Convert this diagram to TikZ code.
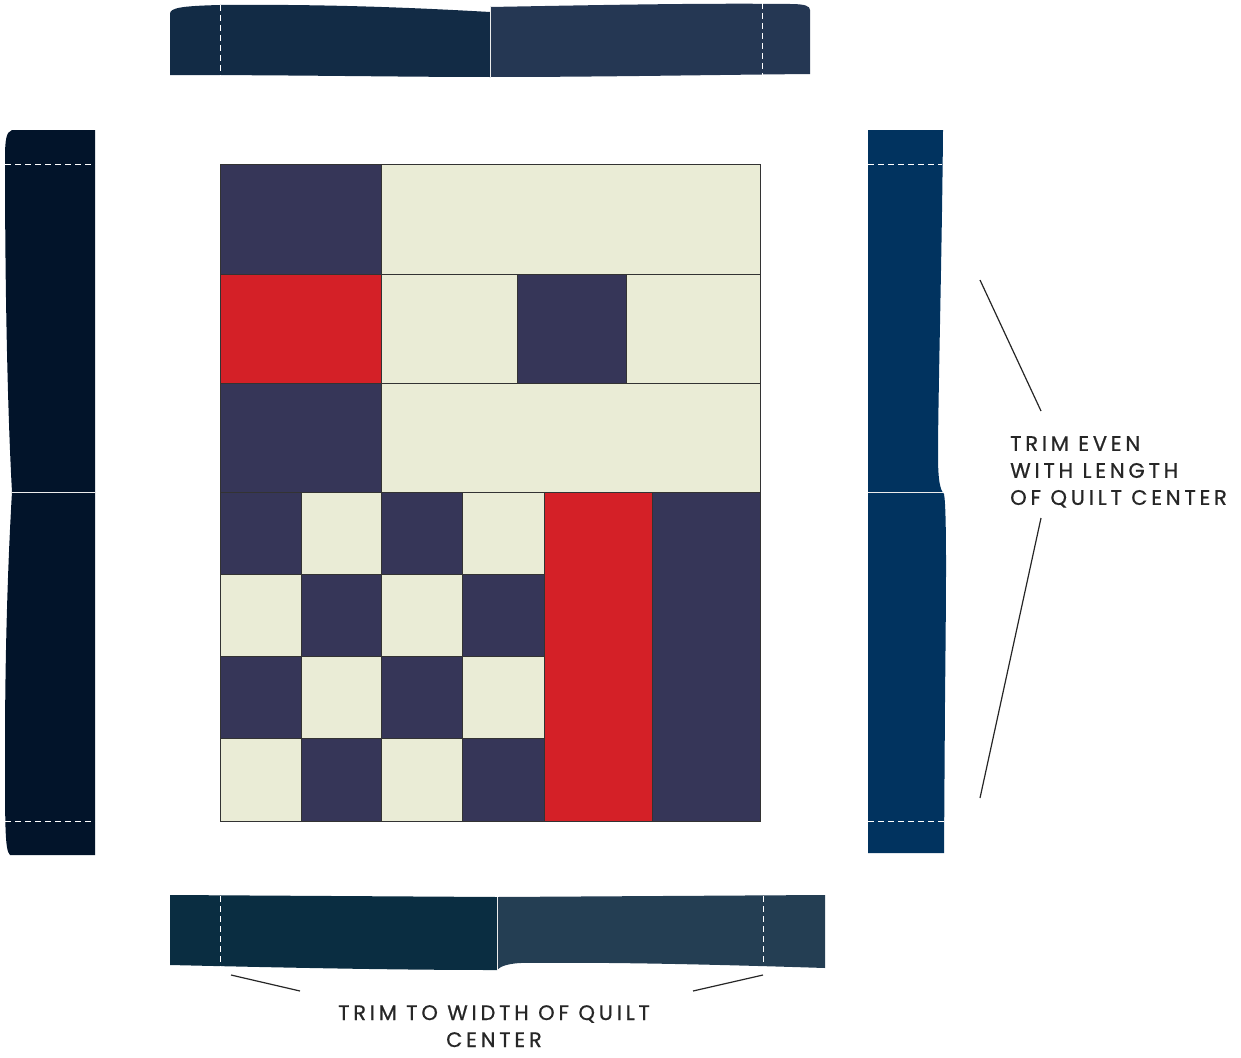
\documentclass[tikz,border=0pt]{standalone}
\usepackage{fontspec}
\newfontfamily\labelfont[LetterSpace=18,FakeBold=0.7]{Poppins}
\definecolor{navy}{HTML}{363658}
\definecolor{cream}{HTML}{EAECD6}
\definecolor{qred}{HTML}{D42027}
\definecolor{topL}{HTML}{122B45}
\definecolor{topR}{HTML}{253753}
\definecolor{leftS}{HTML}{02142A}
\definecolor{rightS}{HTML}{01335F}
\definecolor{botL}{HTML}{0A2D41}
\definecolor{botR}{HTML}{243E53}
\definecolor{ink}{HTML}{262626}
\tikzset{
  cell/.style={draw=black!80, line width=1pt},
  seam/.style={draw=white!85!gray, line width=1pt},
  trimline/.style={draw=white, line width=1pt, dash pattern=on 6pt off 4pt},
  leader/.style={draw=ink, line width=1.2pt},
  lbl/.style={font=\labelfont\fontsize{21}{27}\selectfont, text=ink, inner sep=0pt}
}
\begin{document}
\begin{tikzpicture}[x=1pt,y=-1pt]
\useasboundingbox (0,0) rectangle (1241,1057);
% top strip
\fill[topL] (170,14) .. controls (170,8) and (180,6) .. (220,5) .. controls (330,4) and (420,8) .. (490,12) -- (490,77) .. controls (400,77) and (300,75) .. (170,75) -- cycle;
\fill[topR] (490,7) .. controls (600,5) and (700,3) .. (790,4) .. controls (805,4) and (810,6) .. (810,10) -- (810,74) .. controls (700,75) and (600,77) .. (490,77) -- cycle;
\draw[seam] (490,7) -- (490,77);
\draw[trimline] (220,5) -- (220,76);
\draw[trimline] (762,3) -- (762,75);
% left strip
\fill[leftS] (95,130) -- (12,130) .. controls (6,132) and (5,140) .. (5,160) .. controls (5,300) and (8,420) .. (12,492) .. controls (8,560) and (5,650) .. (5,750) .. controls (5,830) and (5,850) .. (10,855) -- (95,855) -- cycle;
\draw[seam] (12,492) -- (95,492);
\draw[trimline] (5,164) -- (95,164);
\draw[trimline] (5,821) -- (95,821);
% right strip
\fill[rightS] (868,130) -- (943,130) .. controls (942,250) and (938,400) .. (938,455) .. controls (938,480) and (940,490) .. (944,494) .. controls (947,510) and (946,600) .. (945,700) -- (944,853) -- (868,853) -- cycle;
\draw[seam] (868,492) -- (943,492);
\draw[trimline] (868,164) -- (942,164);
\draw[trimline] (868,821) -- (944,821);
% bottom strip
\fill[botL] (170,895) -- (497,897) -- (497,970) .. controls (400,970) and (300,968) .. (170,965) -- cycle;
\fill[botR] (497,897) -- (825,895) -- (825,968) .. controls (700,964) and (600,962) .. (520,963) .. controls (505,964) and (500,967) .. (497,970) -- cycle;
\draw[seam] (497,897) -- (497,970);
\draw[trimline] (220,896) -- (220,967);
\draw[trimline] (763,896) -- (763,965);
% quilt center
\filldraw[cell, fill=navy] (220,164) rectangle (381,274);
\filldraw[cell, fill=cream] (381,164) rectangle (760,274);
\filldraw[cell, fill=qred] (220,274) rectangle (381,383);
\filldraw[cell, fill=cream] (381,274) rectangle (517,383);
\filldraw[cell, fill=navy] (517,274) rectangle (626,383);
\filldraw[cell, fill=cream] (626,274) rectangle (760,383);
\filldraw[cell, fill=navy] (220,383) rectangle (381,492);
\filldraw[cell, fill=cream] (381,383) rectangle (760,492);
% checkerboard
\foreach \r/\ya/\yb in {0/492/574, 1/574/656, 2/656/738, 3/738/821}{
  \foreach \c/\xa/\xb in {0/220/301, 1/301/381, 2/381/462, 3/462/544}{
    \pgfmathtruncatemacro{\cpar}{mod(\r+\c,2)}
    \ifnum\cpar=0
      \filldraw[cell, fill=navy] (\xa,\ya) rectangle (\xb,\yb);
    \else
      \filldraw[cell, fill=cream] (\xa,\ya) rectangle (\xb,\yb);
    \fi
  }
}
\filldraw[cell, fill=qred] (544,492) rectangle (652,821);
\filldraw[cell, fill=navy] (652,492) rectangle (760,821);
% right annotation
\node[lbl, anchor=north west, align=left] (lenlabel) at (1010,436) {TRIM EVEN\\WITH LENGTH\\OF QUILT CENTER};
\coordinate (r1a) at (980,280);
\coordinate (r1b) at (1041,411);
\coordinate (r2a) at (1041,518);
\coordinate (r2b) at (980,798);
\draw[leader] (r1a) -- (r1b);
\draw[leader] (r2a) -- (r2b);
% bottom annotation
\node[lbl, anchor=north, align=center] (widlabel) at (494,1005) {TRIM TO WIDTH OF QUILT\\CENTER};
\coordinate (b1a) at (231,975);
\coordinate (b1b) at (300,991);
\coordinate (b2a) at (693,991);
\coordinate (b2b) at (763,975);
\draw[leader] (b1a) -- (b1b);
\draw[leader] (b2a) -- (b2b);
\end{tikzpicture}
\end{document}
